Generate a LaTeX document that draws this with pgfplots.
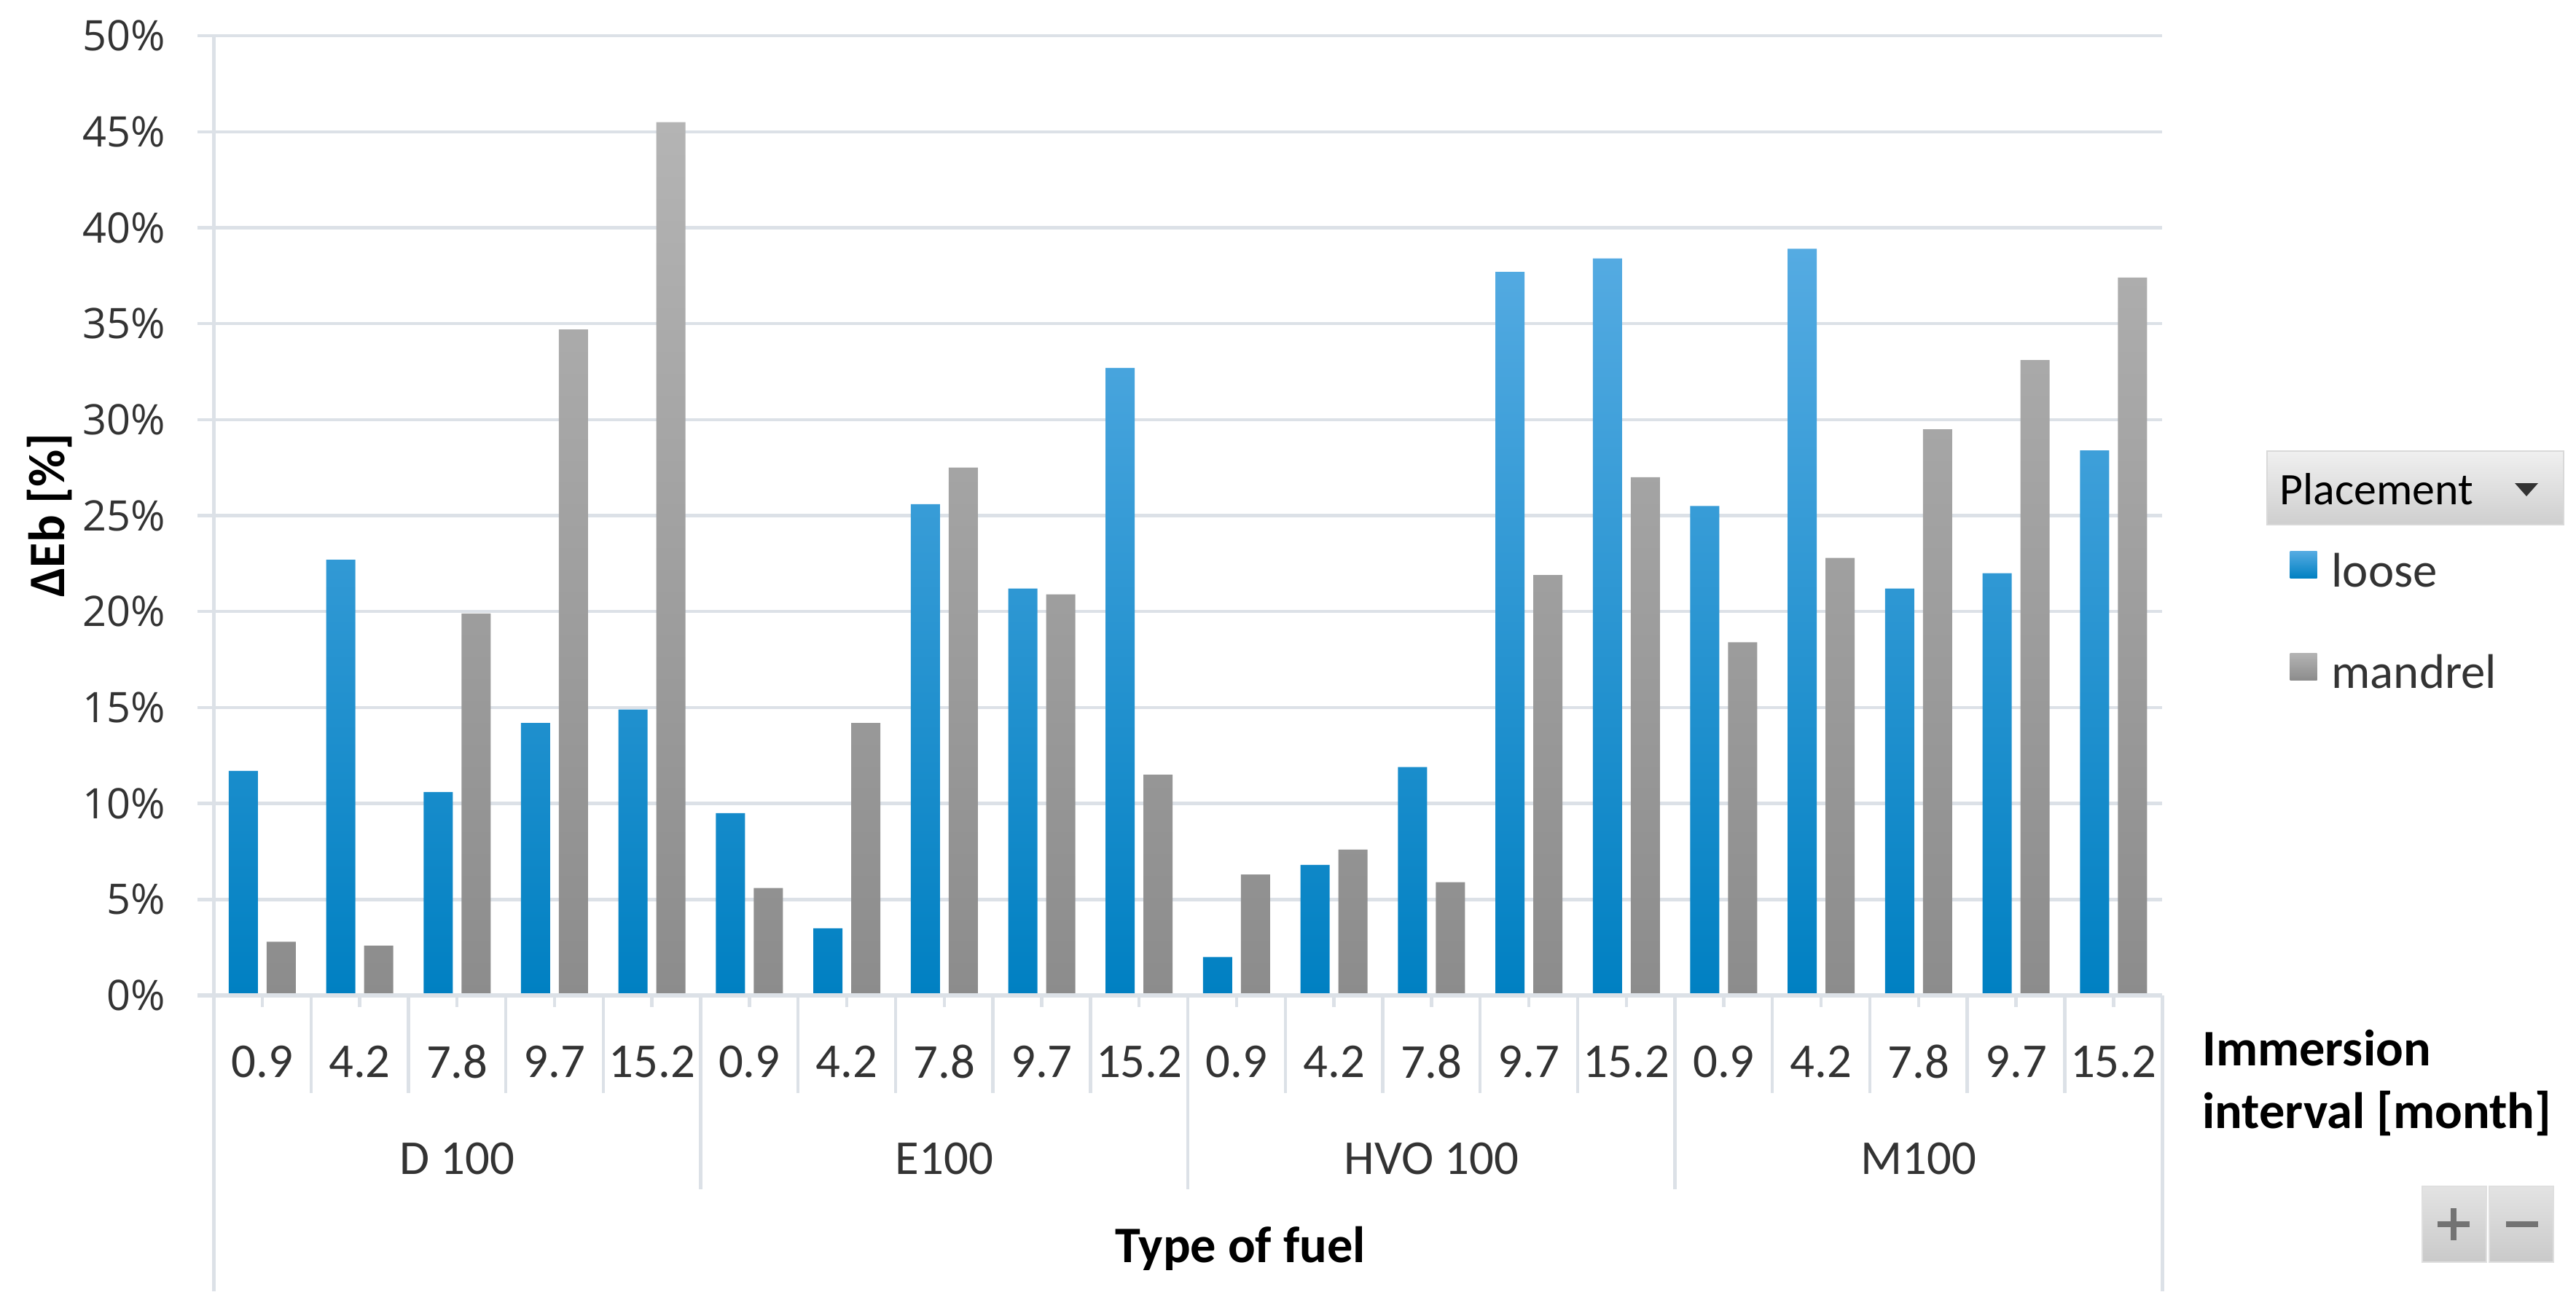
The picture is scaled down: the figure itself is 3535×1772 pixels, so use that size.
\documentclass[border=0pt]{standalone}
\usepackage{fontspec}
\setmainfont{Carlito}
\newfontfamily\tickfont{Open Sans}
\usepackage{pgfplots}
\pgfplotsset{compat=1.18}

\definecolor{gridc}{HTML}{DCE1E7}
\definecolor{txt}{HTML}{333333}
\definecolor{bluetop}{HTML}{55ABE2}
\definecolor{bluemid}{HTML}{0099DB}
\definecolor{bluebot}{HTML}{0080C2}
\definecolor{graytop}{HTML}{B4B4B4}
\definecolor{graybot}{HTML}{8C8C8C}

\begin{document}
\begin{tikzpicture}[font=\fontsize{9.5}{11.4}\selectfont, text=txt]
% page = 3535 x 1772 px, 1 px = 0.05 mm
\begin{scope}[x=0.05mm, y=-0.05mm]
\path[use as bounding box] (0,0) rectangle (3535,1772);
% left gridline stubs, axis lines and category separators
\foreach \v in {0,5,...,50} {\draw[gridc, line width=0.22mm] (271,{1366-\v*26.34}) -- (293,{1366-\v*26.34});}
\draw[gridc, line width=0.25mm] (293,49) -- (293,1772);
\draw[gridc, line width=0.25mm] (2967,1366) -- (2967,1772);
\foreach \k in {1,2,3,4,6,7,8,9,11,12,13,14,16,17,18,19} {\draw[gridc, line width=0.22mm] ({293+\k*133.7},1366) -- ({293+\k*133.7},1500);}
\foreach \k in {5,10,15} {\draw[gridc, line width=0.22mm] ({293+\k*133.7},1366) -- ({293+\k*133.7},1632);}
\end{scope}

\begin{axis}[
    at={(14.65mm,-68.3mm)}, anchor=south west,
    width=133.7mm, height=65.85mm, scale only axis,
    xmin=-0.5, xmax=19.5, ymin=0, ymax=50,
    ybar=0.6mm, bar width=2mm,
    axis line style={draw=none},
    xtick={0,...,19},
    xticklabels={0.9,4.2,7.8,9.7,15.2,0.9,4.2,7.8,9.7,15.2,0.9,4.2,7.8,9.7,15.2,0.9,4.2,7.8,9.7,15.2},
    xtick pos=bottom, tick align=outside, major tick length=0.8mm,
    xtick style={gridc, line width=0.22mm},
    ytick={0,5,...,50},
    yticklabels={0\%,5\%,10\%,15\%,20\%,25\%,30\%,35\%,40\%,45\%,50\%},
    ytick style={draw=none},
    ymajorgrids, grid style={gridc, line width=0.22mm},
    xticklabel style={anchor=center, yshift=-3.75mm, text=txt},
    yticklabel style={anchor=east, inner sep=0pt, xshift=-2.45mm, text=txt, font=\tickfont\fontsize{8.2}{10}\selectfont},
    /pgf/number format/assume math mode=true,
    clip=false,
    legend style={at={(axis description cs:1.0651,0.3876)}, anchor=west,
        draw=none, fill=none, inner sep=0pt, row sep=4.05mm, column sep=1mm,
        nodes={inner sep=0pt, text height=2mm, text depth=0.5mm, text=txt}},
    legend cell align=left,
    legend image code/.code={\path[#1, draw=none] (0mm,-0.175mm) rectangle (1.85mm,1.675mm);},
]
\addplot[draw=none, top color=bluetop, middle color=bluemid, bottom color=bluebot]
coordinates {(0,11.7) (1,22.7) (2,10.6) (3,14.2) (4,14.9)
             (5,9.5) (6,3.5) (7,25.6) (8,21.2) (9,32.7)
             (10,2.0) (11,6.8) (12,11.9) (13,37.7) (14,38.4)
             (15,25.5) (16,38.9) (17,21.2) (18,22.0) (19,28.4)};
\addplot[draw=none, top color=graytop, bottom color=graybot]
coordinates {(0,2.8) (1,2.6) (2,19.9) (3,34.7) (4,45.5)
             (5,5.6) (6,14.2) (7,27.5) (8,20.9) (9,11.5)
             (10,6.3) (11,7.6) (12,5.9) (13,21.9) (14,27.0)
             (15,18.4) (16,22.8) (17,29.5) (18,33.1) (19,37.4)};
\legend{loose, mandrel}
\draw[gridc, line width=0.3mm] (axis cs:-0.5,0) -- (axis cs:19.5,0);
\node at (axis cs:2,0)  [yshift=-11.2mm] {D 100};
\node at (axis cs:7,0)  [yshift=-11.2mm] {E100};
\node at (axis cs:12,0) [yshift=-11.2mm] {HVO 100};
\node at (axis cs:17,0) [yshift=-11.2mm] {M100};
\end{axis}

\begin{scope}[x=0.05mm, y=-0.05mm]
\draw[gridc, line width=0.3mm] (271,1366) -- (293,1366);
% axis titles
\node[rotate=90, font=\fontsize{10}{12}\selectfont\bfseries, text=black] at (68,707) {ΔEb [\%]};
\node[font=\fontsize{10}{12}\selectfont\bfseries, text=black] at (1702,1713) {Type of fuel};
\node[font=\fontsize{10}{12.2}\selectfont\bfseries, text=black, align=left, anchor=west, inner sep=0pt] at (3021,1486) {Immersion\\interval [month]};
% field button of the pivot chart
\shade[top color=gray!12, bottom color=gray!38, draw=gray!30] (3111,619) rectangle (3518,720);
\node[anchor=west, inner sep=0pt, text=black, font=\fontsize{8.8}{10.5}\selectfont] at (3127,671) {Placement};
\fill[black!80] (3451,663) -- (3483,663) -- (3467,681) -- cycle;
% expand / collapse buttons
\shade[top color=gray!22, bottom color=gray!42, draw=gray!25] (3324,1628) rectangle (3412,1732);
\shade[top color=gray!22, bottom color=gray!42, draw=gray!25] (3416,1628) rectangle (3504,1732);
\draw[black!55, line width=0.4mm] (3345,1680) -- (3389,1680) (3367,1658) -- (3367,1702);
\draw[black!55, line width=0.4mm] (3439,1680) -- (3483,1680);
\end{scope}
\end{tikzpicture}
\end{document}
